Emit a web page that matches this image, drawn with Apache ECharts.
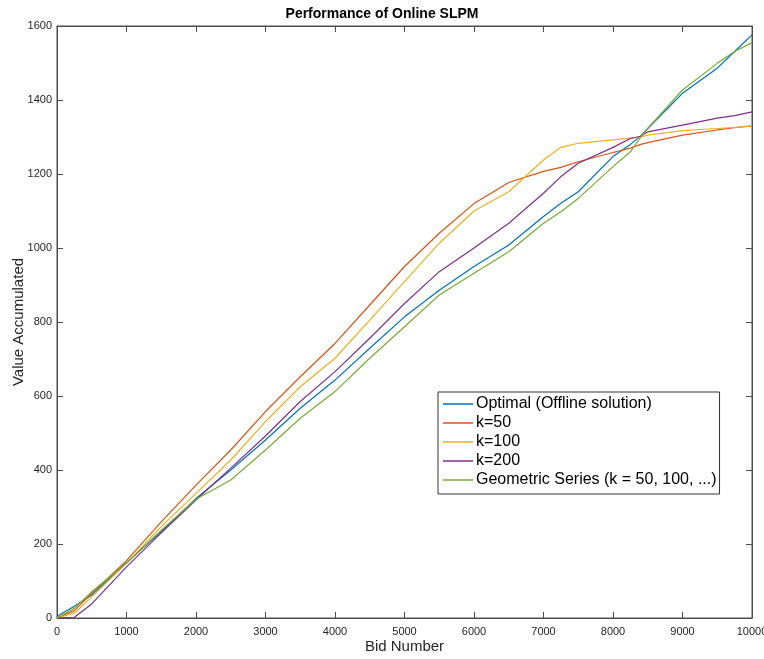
<!DOCTYPE html>
<html>
<head>
<meta charset="utf-8">
<script src="https://cdn.jsdelivr.net/npm/echarts@6/dist/echarts.min.js"></script>
<style>
    html, body {margin: 0; padding: 0; background: #fff;}
    #chartDiv {width: 764px; height: 659px;}
</style>
</head>
<body>
<div id="chartDiv"></div>
<script>
    var bids = [0, 250, 500, 1000, 1500, 2000, 2500, 3000, 3500, 4000, 4500, 5000, 5500, 6000,
        6500, 7000, 7250, 7500, 8000, 8250, 8400, 8500, 9000, 9500, 9750, 10000];

    var optimal = [5, 32, 62, 150, 233, 323, 400, 481, 567, 643, 729, 814, 886, 950,
        1008, 1085, 1121, 1152, 1247, 1280, 1303, 1323, 1418, 1486, 1531, 1576];
    var k50 = [0, 20, 67, 155, 260, 359, 454, 558, 652, 742, 846, 950, 1040, 1120,
        1177, 1207, 1218, 1233, 1258, 1270, 1280, 1285, 1305, 1319, 1325, 1330];
    var k100 = [0, 13, 57, 148, 247, 337, 427, 531, 625, 702, 805, 909, 1013, 1100,
        1152, 1238, 1272, 1283, 1292, 1297, 1300, 1305, 1317, 1323, 1326, 1330];
    var k200 = [0, 2, 38, 138, 230, 319, 405, 492, 585, 666, 756, 850, 936, 1000,
        1067, 1148, 1193, 1229, 1272, 1296, 1302, 1314, 1332, 1351, 1358, 1368];
    var geometric = [0, 26, 71, 148, 237, 321, 373, 454, 540, 612, 702, 787, 873, 932,
        990, 1067, 1098, 1134, 1220, 1260, 1300, 1323, 1427, 1499, 1531, 1555];

    var seriesNames = ['Optimal (Offline solution)', 'k=50', 'k=100', 'k=200', 'Geometric Series (k = 50, 100, ...)'];
    var seriesValues = [optimal, k50, k100, k200, geometric];
    var colors = ['#0072BD', '#D95319', '#EDB120', '#7E2F8E', '#77AC30'];

    function pairs(values) {
        return bids.map(function (b, i) {
            return [b, values[i]];
        });
    }

    var axisColor = '#4d4d4d';

    function labelStyle(margin) {
        return {
            color: '#262626', fontSize: 11, fontFamily: 'Liberation Sans', margin: margin,
            formatter: function (v) { return String(v); }
        };
    }

    function boxAxis(position, max, interval) {
        return {
            type: 'value',
            position: position,
            min: 0,
            max: max,
            interval: interval,
            axisLine: {show: true, onZero: false, lineStyle: {color: axisColor}},
            axisTick: {show: true, inside: true, length: 6, lineStyle: {color: axisColor}},
            axisLabel: {show: false},
            splitLine: {show: false}
        };
    }

    var chart = echarts.init(document.getElementById('chartDiv'));
    var series = seriesNames.map(function (name, i) {
        return {
            name: name,
            type: 'line',
            symbol: 'none',
            lineStyle: {width: 1.2},
            data: pairs(seriesValues[i])
        };
    });
    // empty series so the top/right axes get drawn
    series.push({type: 'line', xAxisIndex: 1, yAxisIndex: 1, symbol: 'none', silent: true, data: []});

    var option = {
        animation: false,
        color: colors,
        title: {
            text: 'Performance of Online SLPM',
            left: 'center',
            top: 2,
            textStyle: {fontSize: 14, fontWeight: 'bold', color: '#000', fontFamily: 'Liberation Sans'}
        },
        grid: {
            left: 57, right: 12, top: 26, bottom: 41, containLabel: false, outerBoundsMode: 'none',
            show: true, borderColor: axisColor, borderWidth: 1
        },
        legend: {
            data: seriesNames,
            orient: 'vertical',
            left: 438,
            top: 392,
            icon: 'rect',
            itemWidth: 30,
            itemHeight: 1.5,
            itemGap: 1,
            padding: [3, 3, 5, 5],
            borderColor: '#333',
            borderWidth: 1,
            borderRadius: 0,
            backgroundColor: '#fff',
            textStyle: {fontSize: 16, lineHeight: 18, color: '#000', fontFamily: 'Liberation Sans', padding: [0, 0, 0, -2]}
        },
        xAxis: [
            {
                type: 'value',
                min: 0,
                max: 10000,
                interval: 1000,
                name: 'Bid Number',
                nameLocation: 'middle',
                nameGap: 21,
                nameMoveOverlap: false,
                nameTextStyle: {fontSize: 15, color: '#262626', fontFamily: 'Liberation Sans'},
                axisLine: {onZero: false, lineStyle: {color: axisColor}},
                axisTick: {inside: true, length: 6, lineStyle: {color: axisColor}},
                axisLabel: labelStyle(8),
                splitLine: {show: false}
            },
            boxAxis('top', 10000, 1000)
        ],
        yAxis: [
            {
                type: 'value',
                min: 0,
                max: 1600,
                interval: 200,
                name: 'Value Accumulated',
                nameLocation: 'middle',
                nameGap: 31,
                nameMoveOverlap: false,
                nameTextStyle: {fontSize: 15, color: '#262626', fontFamily: 'Liberation Sans'},
                axisLine: {show: true, onZero: false, lineStyle: {color: axisColor}},
                axisTick: {show: true, inside: true, length: 6, lineStyle: {color: axisColor}},
                axisLabel: labelStyle(5),
                splitLine: {show: false}
            },
            boxAxis('right', 1600, 200)
        ],
        series: series
    };
    chart.setOption(option);
</script>
</body>
</html>
